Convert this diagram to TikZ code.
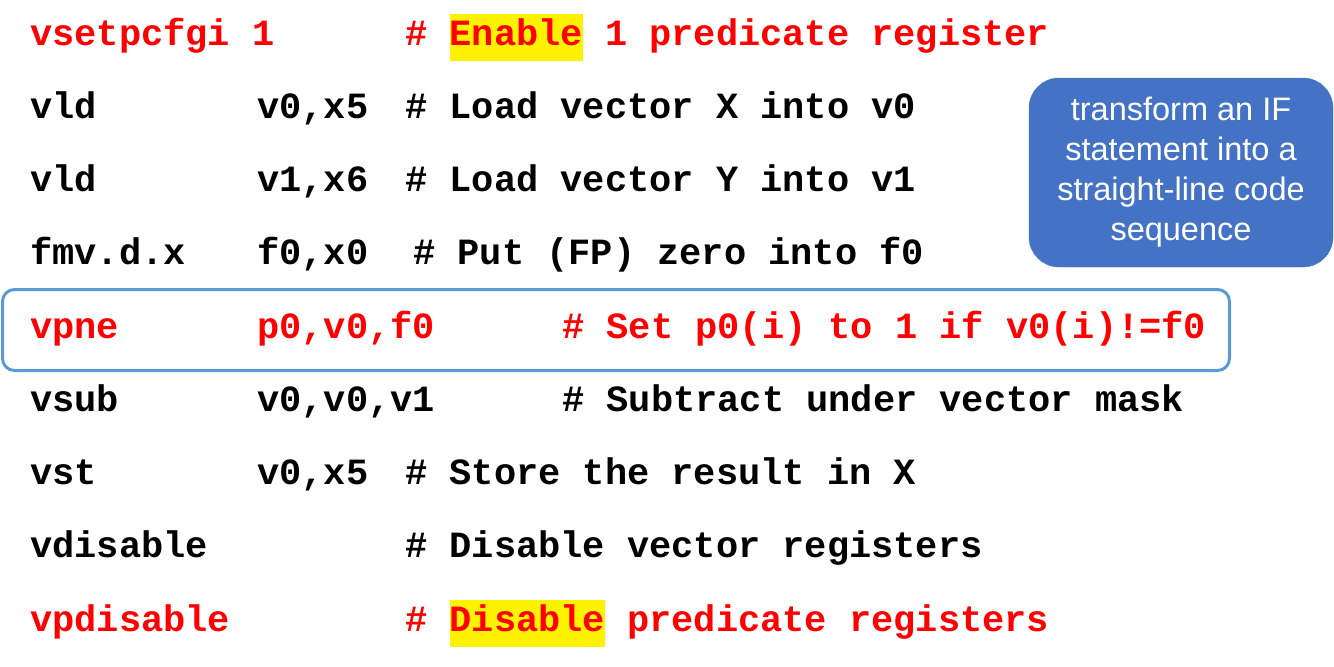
\documentclass[tikz,border=0pt]{standalone}
\usepackage{fontspec}
\setmainfont{Liberation Sans}
\newfontfamily\codefont{Liberation Mono}
\usepackage{tikz}
\usetikzlibrary{positioning}

\definecolor{noteblue}{HTML}{4472C4}
\definecolor{frameblue}{HTML}{5B9BD5}

\tikzset{
	code/.style={anchor=base west, inner sep=0pt, font=\codefont\bfseries\fontsize{37}{37}\selectfont},
	hot/.style={code, text=red},
	note/.style={fill=noteblue, draw=noteblue, text=white, rounded corners=30pt, align=center,
		minimum width=304pt, minimum height=189pt, inner sep=0pt, font=\fontsize{32.5}{40}\selectfont},
}
\newcommand{\hlword}[1]{{\setlength{\fboxsep}{0pt}\colorbox{yellow}{\rule[-16pt]{0pt}{47pt}#1}}}

\begin{document}
\begin{tikzpicture}[x=1pt,y=-1pt]
	\useasboundingbox (0,0) rectangle (1334,667);
	
	%row positions
	\coordinate (r1) at (0,45);
	\coordinate (r2) at (0,118);
	\coordinate (r3) at (0,191);
	\coordinate (r4) at (0,264);
	\coordinate (r5) at (0,338);
	\coordinate (r6) at (0,411);
	\coordinate (r7) at (0,484);
	\coordinate (r8) at (0,557);
	\coordinate (r9) at (0,631);
	
	%frame round vpne
	\draw[frameblue, line width=3pt, rounded corners=12pt] (2.5,289.5) rectangle (1229.5,370.5);
	
	%opcodes
	\node[hot]  (op1) at ([xshift=30pt]r1) {vsetpcfgi 1};
	\node[code] (op2) at ([xshift=30pt]r2) {vld};
	\node[code] (op3) at ([xshift=30pt]r3) {vld};
	\node[code] (op4) at ([xshift=30pt]r4) {fmv.d.x};
	\node[hot]  (op5) at ([xshift=30pt]r5) {vpne};
	\node[code] (op6) at ([xshift=30pt]r6) {vsub};
	\node[code] (op7) at ([xshift=30pt]r7) {vst};
	\node[code] (op8) at ([xshift=30pt]r8) {vdisable};
	\node[hot]  (op9) at ([xshift=30pt]r9) {vpdisable};
	
	%operands
	\node[code] (arg2) at ([xshift=257pt]r2) {v0,x5};
	\node[code] (arg3) at ([xshift=257pt]r3) {v1,x6};
	\node[code] (arg4) at ([xshift=257pt]r4) {f0,x0};
	\node[hot]  (arg5) at ([xshift=257pt]r5) {p0,v0,f0};
	\node[code] (arg6) at ([xshift=257pt]r6) {v0,v0,v1};
	\node[code] (arg7) at ([xshift=257pt]r7) {v0,x5};
	
	%comments
	\node[hot]  (cm1) at ([xshift=405pt]r1) {\# \hlword{Enable} 1 predicate register};
	\node[code] (cm2) at ([xshift=405pt]r2) {\# Load vector X into v0};
	\node[code] (cm3) at ([xshift=405pt]r3) {\# Load vector Y into v1};
	\node[code] (cm4) at ([xshift=413pt]r4) {\# Put (FP) zero into f0};
	\node[hot]  (cm5) at ([xshift=562pt]r5) {\# Set p0(i) to 1 if v0(i)!=f0};
	\node[code] (cm6) at ([xshift=562pt]r6) {\# Subtract under vector mask};
	\node[code] (cm7) at ([xshift=405pt]r7) {\# Store the result in X};
	\node[code] (cm8) at ([xshift=405pt]r8) {\# Disable vector registers};
	\node[hot]  (cm9) at ([xshift=405pt]r9) {\# \hlword{Disable} predicate registers};
	
	%note
	\node[note] (ifnote) at (1181,172.5) {transform an IF\\statement into a\\straight-line code\\sequence};
	
\end{tikzpicture}
\end{document}
